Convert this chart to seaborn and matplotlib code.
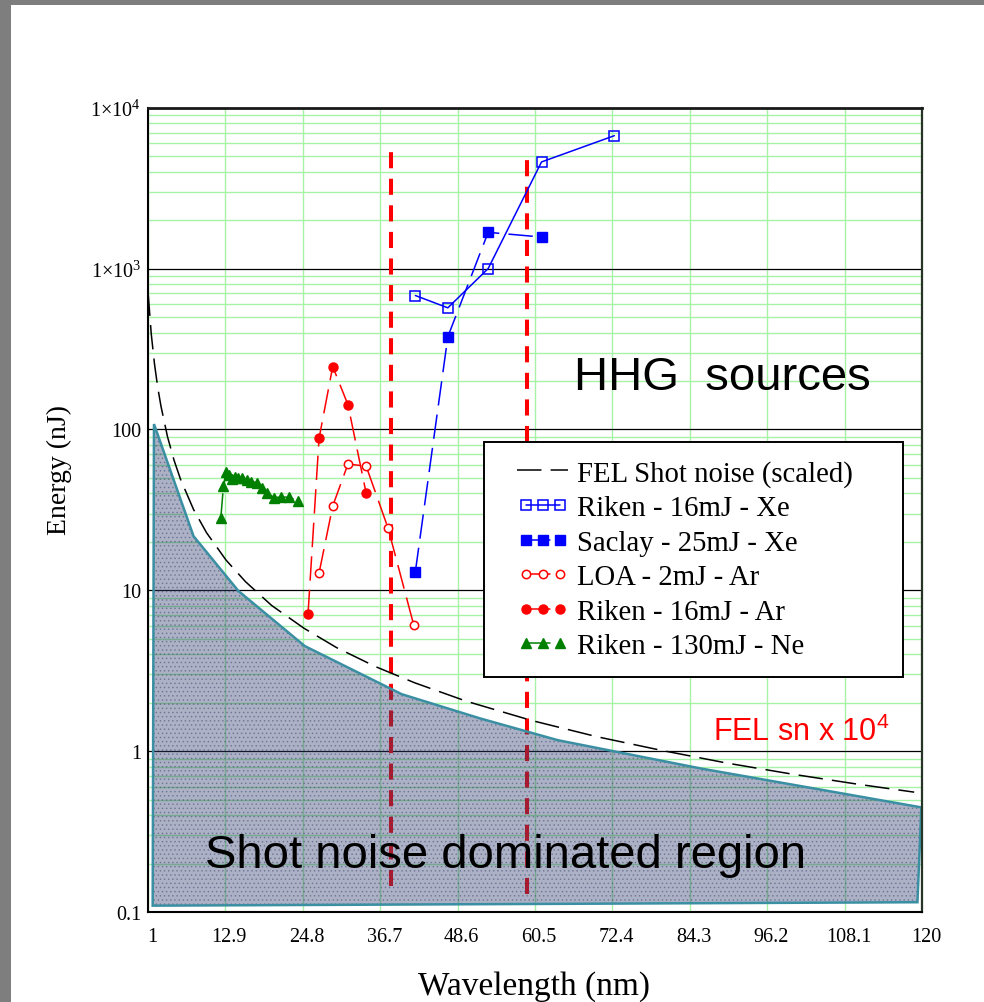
import matplotlib
matplotlib.use("Agg")
import matplotlib.pyplot as plt
import matplotlib.transforms as mtransforms
from matplotlib.patches import Rectangle
from matplotlib.legend_handler import HandlerLine2D
from matplotlib.ticker import FixedLocator, FixedFormatter, LogLocator, NullFormatter
import seaborn as sns

# ---- axis ticks -------------------------------------------------------------
x_ticks = [1, 12.9, 24.8, 36.7, 48.6, 60.5, 72.4, 84.3, 96.2, 108.1, 120]
x_tick_labels = ["1", "12.9", "24.8", "36.7", "48.6", "60.5", "72.4",
                 "84.3", "96.2", "108.1", "120"]
y_ticks = [0.1, 1, 10, 100, 1e3, 1e4]
y_tick_labels = ["0.1", "1", "10", "100", "1×10$^{3}$", "1×10$^{4}$"]

# ---- FEL shot noise (scaled) ------------------------------------------------
fel_wl = [1, 1.5, 2, 2.5, 3, 4, 5, 6, 8, 10, 13, 16, 20, 25, 30, 36, 42,
          50, 60, 70, 80, 90, 100, 110, 118.8]
fel_energy = [720, 392, 255, 182, 139, 90, 64.4, 49, 31.8, 22.8, 15.4, 11.3,
              8.05, 5.8, 4.4, 3.35, 2.66, 2.04, 1.55, 1.23, 1.01, 0.843,
              0.72, 0.624, 0.556]

# ---- shot-noise dominated region (outline of shaded polygon) ----------------
shot_wl = [1.72, 1.92, 8.0, 14.9, 25.1, 40.0, 52.0, 64.0, 86.0, 119.9, 119.3]
shot_energy = [0.1095, 108, 21.7, 9.9, 4.5, 2.26, 1.6, 1.17, 0.78, 0.447, 0.115]

# ---- HHG sources --------------------------------------------------------------
riken_xe_wl = [42.1, 47.1, 53.3, 61.5, 72.7]
riken_xe_energy = [680, 570, 1000, 4600, 6700]

saclay_xe_wl = [42.1, 47.1, 53.3, 61.5]
saclay_xe_energy = [13.0, 377, 1680, 1570]

loa_ar_wl = [27.3, 29.4, 31.75, 34.55, 37.9, 41.85]
loa_ar_energy = [12.8, 33.4, 61, 59, 24.4, 6.1]

riken_ar_wl = [25.6, 27.3, 29.4, 31.75, 34.55]
riken_ar_energy = [7.1, 88, 246, 142, 40]

riken_ne_wl = [12.2, 12.6, 13.0, 13.4, 13.9, 14.4, 14.9, 15.5, 16.2, 16.9,
               17.7, 18.5, 19.3, 20.4, 21.5, 22.7, 24.1]
riken_ne_energy = [28.3, 44.5, 54.6, 52, 48.9, 50.6, 49.6, 49.6, 48.2, 47.3,
                   46.7, 43.4, 40.4, 37.7, 38, 37.9, 35.9]

# ---- wavelength boundaries (red dashed) --------------------------------------
boundary_wl = [38.4, 59.2]
boundary_low = [0.145, 0.129]
boundary_high = [5970, 4800]

# ---- style ------------------------------------------------------------------
sns.set_style("white")
plt.rcParams["font.family"] = ["Liberation Serif", "DejaVu Serif"]
plt.rcParams["mathtext.fontset"] = "custom"
plt.rcParams["mathtext.rm"] = "Liberation Serif"
plt.rcParams["mathtext.sf"] = "Liberation Sans"
plt.rcParams["hatch.linewidth"] = 0.6
for key in ["text.color", "axes.labelcolor", "xtick.color", "ytick.color"]:
    plt.rcParams[key] = "black"

fig = plt.figure(figsize=(9.84, 10.03), dpi=100)
fig.patch.set_facecolor("#7e7e7e")
fig.patches.append(Rectangle((11 / 984, 0), 1 - 11 / 984, 997 / 1003,
                             transform=fig.transFigure, facecolor="white",
                             edgecolor="none", zorder=-5))

ax = fig.add_axes([148 / 984, 90 / 1003, 774 / 984, 804.3 / 1003])
ax.set_facecolor("white")

grid_green = "#a6f2a6"
dash = (0, (16, 6))

# boundaries
ax.vlines(boundary_wl, boundary_low, boundary_high, colors="#ff0000",
          linewidth=2.9, linestyles=[(0, (4.0, 2.6))], zorder=1)

# shaded region
ax.fill(shot_wl, shot_energy, facecolor="#313d70", alpha=0.40,
        edgecolor="none", zorder=2)
ax.fill(shot_wl, shot_energy, facecolor="none", edgecolor="#3c4870",
        linewidth=0, hatch="....", alpha=0.45, zorder=2.1)
ax.fill(shot_wl, shot_energy, facecolor="none", edgecolor="#3a8fa3",
        linewidth=1.8, zorder=2.2)

# curves
sns.lineplot(x=fel_wl, y=fel_energy, ax=ax, color="black", linewidth=1.1,
             linestyle=dash, label="FEL Shot noise (scaled)",
             errorbar=None, sort=False, zorder=3)
sns.lineplot(x=riken_xe_wl, y=riken_xe_energy, ax=ax, color="#0000ff",
             linewidth=1.1, marker="s", markersize=7, markerfacecolor="none",
             markeredgecolor="#0000ff", markeredgewidth=1.1,
             label="Riken - 16mJ - Xe", errorbar=None, sort=False, zorder=3)
sns.lineplot(x=saclay_xe_wl, y=saclay_xe_energy, ax=ax, color="#0000ff",
             linewidth=1.1, linestyle=dash, marker="s", markersize=7.5,
             markerfacecolor="#0000ff", markeredgecolor="#0000ff",
             markeredgewidth=1.0, label="Saclay - 25mJ - Xe",
             errorbar=None, sort=False, zorder=3)
sns.lineplot(x=loa_ar_wl, y=loa_ar_energy, ax=ax, color="#ff0000",
             linewidth=1.1, linestyle=dash, marker="o", markersize=6,
             markerfacecolor="white", markeredgecolor="#ff0000",
             markeredgewidth=1.1, label="LOA - 2mJ - Ar",
             errorbar=None, sort=False, zorder=3)
sns.lineplot(x=riken_ar_wl, y=riken_ar_energy, ax=ax, color="#ff0000",
             linewidth=1.1, linestyle=dash, marker="o", markersize=6.5,
             markerfacecolor="#ff0000", markeredgecolor="#ff0000",
             markeredgewidth=1.0, label="Riken - 16mJ - Ar",
             errorbar=None, sort=False, zorder=3)
sns.lineplot(x=riken_ne_wl, y=riken_ne_energy, ax=ax, color="#008000",
             linewidth=1.1, linestyle=dash, marker="^", markersize=7.5,
             markerfacecolor="#008000", markeredgecolor="#008000",
             markeredgewidth=1.0, label="Riken - 130mJ - Ne",
             errorbar=None, sort=False, zorder=3)

# axes
ax.set_yscale("log")
ax.set_xlim(1, 120)
ax.set_ylim(0.1, 1e4)
ax.xaxis.set_major_locator(FixedLocator(x_ticks))
ax.xaxis.set_major_formatter(FixedFormatter(x_tick_labels))
ax.yaxis.set_major_locator(FixedLocator(y_ticks))
ax.yaxis.set_major_formatter(FixedFormatter(y_tick_labels))
ax.yaxis.set_minor_locator(LogLocator(base=10, subs=range(2, 10), numticks=20))
ax.yaxis.set_minor_formatter(NullFormatter())
ax.tick_params(axis="both", which="both", length=0, labelsize=14.5,
               colors="black")
ax.tick_params(axis="x", pad=11)
ax.tick_params(axis="y", pad=5)

ax.set_axisbelow(True)
ax.grid(which="major", axis="y", color="black", linewidth=0.9)
ax.grid(which="minor", axis="y", color=grid_green, linewidth=1.0)
ax.grid(which="major", axis="x", color=grid_green, linewidth=1.0)

for side in ["left", "bottom"]:
    ax.spines[side].set_color("black")
    ax.spines[side].set_linewidth(1.5)
ax.spines["top"].set_color("#1a1a1a")
ax.spines["top"].set_linewidth(2.0)
ax.spines["right"].set_color("#263626")
ax.spines["right"].set_linewidth(1.6)

shift = mtransforms.ScaledTranslation(4 / 100, 0, fig.dpi_scale_trans)
for lab in ax.get_xticklabels():
    lab.set_transform(lab.get_transform() + shift)

ax.set_xlabel("Wavelength (nm)", fontsize=24)
ax.xaxis.set_label_coords(0.4987, -0.092)
ax.xaxis.label.set_va("center")
ax.set_ylabel("Energy (nJ)", fontsize=20)
ax.yaxis.set_label_coords(-0.1150, 0.551)
ax.yaxis.label.set_va("center")

# annotations
ax.text(0.7416, 0.6503, "HHG  sources", transform=ax.transAxes,
        fontsize=34, family="Liberation Sans", ha="center", va="baseline",
        color="black", zorder=6)
ax.text(0.4619, 0.0556, "Shot noise dominated region", transform=ax.transAxes,
        fontsize=34, family="Liberation Sans", ha="center", va="baseline",
        color="black", zorder=6)
ax.text(0.730, 0.2142, "FEL sn x 10$^{\\mathsf{4}}$", transform=ax.transAxes,
        fontsize=22, family="Liberation Sans", color="#ff0000", ha="left",
        va="baseline", zorder=6)

# legend
ax.add_patch(Rectangle((0.4341, 0.2918), 0.5417, 0.2922, transform=ax.transAxes,
                       facecolor="white", edgecolor="black", linewidth=1.4,
                       zorder=4))
handles, labels = ax.get_legend_handles_labels()
leg = ax.legend(handles, labels, loc="upper left",
                bbox_to_anchor=(0.4769, 0.5622), frameon=False, borderpad=0,
                borderaxespad=0, numpoints=3, handlelength=1.78,
                handletextpad=0.32, labelspacing=0.29,
                handler_map={handles[0]: HandlerLine2D(numpoints=1)},
                prop={"family": "Liberation Serif", "size": 20.7})
leg.set_zorder(5)

fig.savefig("out.png", dpi=100, facecolor=fig.get_facecolor())
